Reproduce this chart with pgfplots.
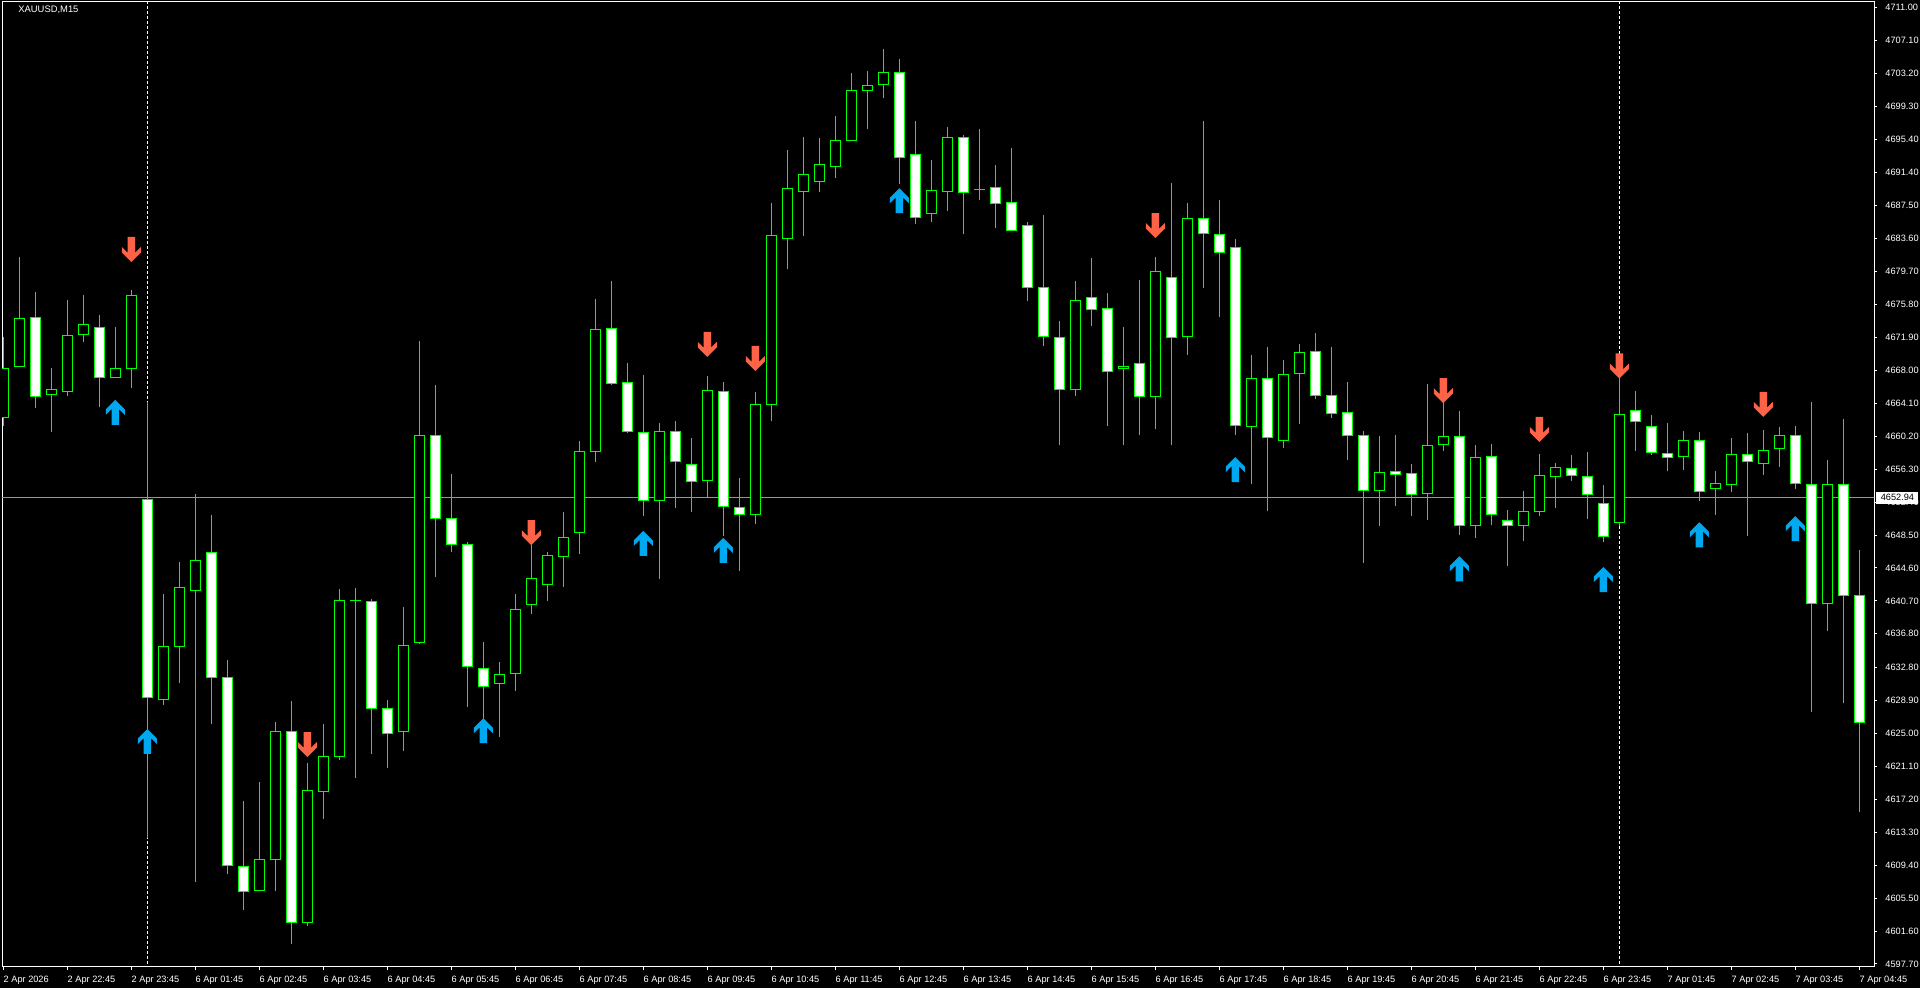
\documentclass[border=0pt]{standalone}
\usepackage{pgfplots}
\pgfplotsset{compat=1.18}
\usepackage{pgfplotstable}
\usepackage{fontspec}
\setmainfont{Liberation Sans}
\definecolor{lime}{RGB}{0,255,0}
\definecolor{buyblue}{RGB}{0,168,240}
\definecolor{sellred}{RGB}{255,99,71}
\definecolor{priceline}{RGB}{150,150,150}

\pgfdeclareplotmark{sellarrow}{%
  \pgfpathmoveto{\pgfqpoint{0pt}{-6.25pt}}%
  \pgfpathlineto{\pgfqpoint{4.75pt}{-1.5pt}}%
  \pgfpathlineto{\pgfqpoint{4.75pt}{1.25pt}}%
  \pgfpathlineto{\pgfqpoint{1.9pt}{-1.6pt}}%
  \pgfpathlineto{\pgfqpoint{1.9pt}{6.25pt}}%
  \pgfpathlineto{\pgfqpoint{-1.9pt}{6.25pt}}%
  \pgfpathlineto{\pgfqpoint{-1.9pt}{-1.6pt}}%
  \pgfpathlineto{\pgfqpoint{-4.75pt}{1.25pt}}%
  \pgfpathlineto{\pgfqpoint{-4.75pt}{-1.5pt}}%
  \pgfpathclose\pgfusepathqfill}
\pgfdeclareplotmark{buyarrow}{%
  \pgfpathmoveto{\pgfqpoint{0pt}{6.25pt}}%
  \pgfpathlineto{\pgfqpoint{4.75pt}{1.5pt}}%
  \pgfpathlineto{\pgfqpoint{4.75pt}{-1.25pt}}%
  \pgfpathlineto{\pgfqpoint{1.9pt}{1.6pt}}%
  \pgfpathlineto{\pgfqpoint{1.9pt}{-6.25pt}}%
  \pgfpathlineto{\pgfqpoint{-1.9pt}{-6.25pt}}%
  \pgfpathlineto{\pgfqpoint{-1.9pt}{1.6pt}}%
  \pgfpathlineto{\pgfqpoint{-4.75pt}{-1.25pt}}%
  \pgfpathlineto{\pgfqpoint{-4.75pt}{1.5pt}}%
  \pgfpathclose\pgfusepathqfill}

% bullish candles (close >= open), hollow
\pgfplotstableread{
x o h l c
0 4662.41 4671.99 4661.47 4668.22
1 4668.51 4681.41 4668.51 4674.16
3 4665.10 4668.29 4660.67 4665.68
4 4665.53 4676.34 4665.02 4672.13
5 4672.28 4676.92 4671.33 4673.44
7 4667.13 4673.15 4667.13 4668.22
8 4668.22 4677.50 4665.90 4676.92
10 4629.06 4641.53 4628.33 4635.29
11 4635.29 4645.30 4630.94 4642.26
12 4641.97 4653.35 4607.45 4645.45
16 4606.43 4619.27 4606.43 4610.06
17 4610.06 4626.30 4606.29 4625.21
19 4602.66 4621.52 4602.23 4618.25
20 4618.11 4626.08 4614.84 4622.24
21 4622.31 4642.11 4621.81 4640.73
22 4640.73 4642.26 4619.70 4640.73
25 4625.21 4640.01 4622.97 4635.44
26 4635.80 4671.48 4635.58 4660.31
31 4630.87 4633.48 4624.63 4631.96
32 4632.10 4641.53 4630.07 4639.64
33 4640.30 4647.33 4639.14 4643.34
34 4642.69 4646.46 4640.66 4646.10
35 4645.95 4651.25 4642.33 4648.20
36 4648.78 4659.66 4646.24 4658.35
37 4658.43 4676.48 4657.12 4672.86
41 4652.62 4661.76 4643.27 4660.75
44 4654.95 4667.35 4652.99 4665.60
47 4650.88 4665.46 4649.80 4663.94
48 4664.01 4687.80 4661.98 4684.02
49 4683.66 4694.10 4679.96 4689.54
50 4689.17 4695.63 4683.88 4691.20
51 4690.41 4695.55 4689.10 4692.36
52 4692.15 4698.16 4690.77 4695.19
53 4695.26 4703.24 4695.26 4701.14
54 4701.14 4703.46 4696.57 4701.72
55 4701.86 4706.07 4700.20 4703.24
58 4686.56 4692.94 4685.55 4689.32
59 4689.17 4696.86 4686.92 4695.55
61 4689.46 4696.57 4688.16 4689.46
67 4665.68 4678.59 4664.95 4676.26
70 4668.22 4673.15 4659.15 4668.51
72 4664.95 4681.41 4661.04 4679.75
74 4671.99 4687.80 4669.81 4685.98
78 4661.40 4669.81 4654.58 4667.06
80 4659.73 4669.23 4658.86 4667.56
81 4667.64 4671.12 4661.62 4670.10
86 4653.79 4660.24 4649.51 4655.89
89 4653.42 4666.40 4650.23 4659.08
90 4659.22 4664.23 4658.50 4660.17
92 4649.65 4659.15 4648.20 4657.63
95 4649.65 4653.71 4647.84 4651.32
96 4651.32 4658.06 4650.81 4655.60
97 4655.45 4657.05 4651.68 4656.54
101 4650.01 4667.06 4649.51 4662.78
105 4657.85 4660.82 4656.18 4659.66
107 4654.00 4656.10 4650.88 4654.58
108 4654.51 4660.02 4653.64 4657.99
110 4656.98 4660.96 4655.60 4658.50
111 4658.79 4661.33 4656.61 4660.31
114 4640.37 4657.41 4637.18 4654.44
}\bull

% bearish candles (close < open), white
\pgfplotstableread{
x o h l c
2 4674.23 4677.28 4663.50 4664.95
6 4673.07 4674.60 4663.65 4667.13
9 4652.70 4664.23 4612.67 4629.20
13 4646.39 4650.88 4626.16 4631.67
14 4631.59 4633.70 4608.32 4609.33
15 4609.26 4617.02 4604.11 4606.29
18 4625.21 4628.84 4600.05 4602.66
23 4640.59 4640.95 4622.60 4627.97
24 4627.97 4628.98 4620.86 4625.00
27 4660.31 4666.26 4643.49 4650.45
28 4650.45 4655.74 4646.53 4647.40
29 4647.33 4647.62 4628.11 4632.97
30 4632.68 4635.80 4626.30 4630.51
38 4672.93 4678.59 4666.26 4666.48
39 4666.55 4668.87 4660.60 4660.75
40 4660.60 4667.49 4650.74 4652.62
42 4660.75 4661.98 4651.75 4657.19
43 4656.83 4660.02 4651.17 4654.87
45 4665.46 4666.62 4648.35 4651.83
46 4651.75 4655.24 4644.29 4650.88
56 4703.24 4704.91 4690.12 4693.23
57 4693.52 4697.51 4685.33 4686.05
60 4695.55 4695.92 4684.10 4689.10
62 4689.68 4692.36 4684.82 4687.80
63 4687.87 4694.32 4684.60 4684.60
64 4685.18 4685.62 4676.26 4677.86
65 4677.86 4686.42 4670.83 4671.99
66 4671.91 4673.87 4659.15 4665.68
68 4676.63 4681.34 4673.22 4675.18
69 4675.32 4677.14 4661.40 4667.92
71 4668.80 4678.73 4660.31 4664.95
73 4679.02 4690.19 4659.22 4671.84
75 4685.98 4697.51 4677.72 4684.24
76 4684.10 4688.16 4674.38 4681.92
77 4682.57 4683.59 4660.31 4661.47
79 4667.06 4670.75 4651.32 4660.09
82 4670.25 4672.42 4664.59 4665.02
83 4665.02 4670.75 4662.34 4662.92
84 4662.99 4666.62 4657.34 4660.31
85 4660.31 4660.82 4645.23 4653.79
87 4656.03 4660.38 4651.90 4655.67
88 4655.74 4656.90 4650.81 4653.35
91 4660.17 4663.21 4648.56 4649.65
93 4657.77 4659.30 4649.65 4650.88
94 4650.23 4651.46 4644.79 4649.65
98 4656.40 4657.99 4654.87 4655.53
99 4655.45 4658.35 4650.45 4653.28
100 4652.26 4654.44 4647.62 4648.35
102 4663.21 4665.53 4658.43 4661.98
103 4661.33 4662.70 4657.99 4658.28
104 4658.14 4661.76 4656.03 4657.70
106 4659.66 4660.67 4652.48 4653.71
109 4657.99 4660.60 4648.35 4657.19
112 4660.31 4661.40 4654.00 4654.58
113 4654.44 4664.23 4627.53 4640.37
115 4654.44 4662.27 4628.55 4641.31
116 4641.31 4646.75 4615.71 4626.30
}\bear

\pgfplotstableread{
x y
8 4682.32
19 4623.69
33 4648.78
44 4671.08
47 4669.41
72 4685.15
90 4665.60
96 4661.00
101 4668.52
110 4663.97
}\sell

\pgfplotstableread{
x y
7 4663.03
9 4624.05
30 4625.32
40 4647.51
45 4646.68
56 4688.09
77 4656.25
91 4644.50
100 4643.23
106 4648.53
112 4649.25
}\buy

\newcommand{\lblfont}{\fontsize{4.6pt}{5.5pt}\selectfont}

\begin{document}
\begin{tikzpicture}
\useasboundingbox (0,0) rectangle (960pt,494pt);
\fill[black] (0,0) rectangle (960pt,494pt);
\begin{axis}[
  at={(1pt,10.5pt)}, anchor=south west,
  scale only axis, width=936pt, height=482.5pt,
  xmin=-0.083, xmax=116.92, ymin=4597.34, ymax=4711.63,
  clip mode=individual,
  axis background/.style={fill=black},
  axis line style={white, line width=0.5pt},
  ytick pos=right, xtick pos=bottom, tick align=outside,
  major tick length=1.5pt,
  tick style={white, line width=0.5pt},
  ytick={4711.00,4707.10,4703.20,4699.30,4695.40,4691.40,4687.50,4683.60,4679.70,4675.80,4671.90,4668.00,4664.10,4660.20,4656.30,4652.40,4648.50,4644.60,4640.70,4636.80,4632.80,4628.90,4625.00,4621.10,4617.20,4613.30,4609.40,4605.50,4601.60,4597.70},
  yticklabels={4711.00,4707.10,4703.20,4699.30,4695.40,4691.40,4687.50,4683.60,4679.70,4675.80,4671.90,4668.00,4664.10,4660.20,4656.30,4652.40,4648.50,4644.60,4640.70,4636.80,4632.80,4628.90,4625.00,4621.10,4617.20,4613.30,4609.40,4605.50,4601.60,4597.70},
  xtick={0,4,...,116},
  xticklabels={2 Apr 2026,2 Apr 22:45,2 Apr 23:45,6 Apr 01:45,6 Apr 02:45,6 Apr 03:45,6 Apr 04:45,6 Apr 05:45,6 Apr 06:45,6 Apr 07:45,6 Apr 08:45,6 Apr 09:45,6 Apr 10:45,6 Apr 11:45,6 Apr 12:45,6 Apr 13:45,6 Apr 14:45,6 Apr 15:45,6 Apr 16:45,6 Apr 17:45,6 Apr 18:45,6 Apr 19:45,6 Apr 20:45,6 Apr 21:45,6 Apr 22:45,6 Apr 23:45,7 Apr 01:45,7 Apr 02:45,7 Apr 03:45,7 Apr 04:45},
  yticklabel style={anchor=west, inner sep=0pt, xshift=4pt, text=white, font=\lblfont},
  xticklabel style={anchor=north west, inner sep=0pt, yshift=-2.75pt, text=white, font=\lblfont},
]
% current price line and day separators
\addplot[priceline, line width=0.5pt, forget plot] coordinates {(-1,4652.94) (118,4652.94)};
\addplot[white, line width=0.5pt, dash pattern=on 1.5pt off 1pt, forget plot] coordinates {(9,4590) (9,4720)};
\addplot[white, line width=0.5pt, dash pattern=on 1.5pt off 1pt, forget plot] coordinates {(101,4590) (101,4720)};
% wicks
\addplot[draw=none, mark=none, forget plot, error bars/.cd, y dir=plus, y explicit, error mark=none,
  error bar style={draw=lime, line width=0.5pt}]
  table[x=x, y=l, y error plus expr={\thisrow{h}-\thisrow{l}}] {\bull};
\addplot[draw=none, mark=none, forget plot, error bars/.cd, y dir=plus, y explicit, error mark=none,
  error bar style={draw=lime, line width=0.5pt}]
  table[x=x, y=l, y error plus expr={\thisrow{h}-\thisrow{l}}] {\bear};
% body outlines
\addplot[draw=none, mark=none, forget plot, error bars/.cd, y dir=plus, y explicit, error mark=none,
  error bar style={draw=lime, line width=5.25pt}]
  table[x=x, y expr={\thisrow{o}-0.06}, y error plus expr={\thisrow{c}-\thisrow{o}+0.12}] {\bull};
\addplot[draw=none, mark=none, forget plot, error bars/.cd, y dir=plus, y explicit, error mark=none,
  error bar style={draw=lime, line width=5.25pt}]
  table[x=x, y expr={\thisrow{c}-0.06}, y error plus expr={\thisrow{o}-\thisrow{c}+0.12}] {\bear};
% body fills
\addplot[draw=none, mark=none, forget plot, error bars/.cd, y dir=plus, y explicit, error mark=none,
  error bar style={draw=black, line width=4.25pt}]
  table[x=x, y expr={\thisrow{o}+0.06}, y error plus expr={max(\thisrow{c}-\thisrow{o}-0.12,0)}] {\bull};
\addplot[draw=none, mark=none, forget plot, error bars/.cd, y dir=plus, y explicit, error mark=none,
  error bar style={draw=white, line width=4.25pt}]
  table[x=x, y expr={\thisrow{c}+0.06}, y error plus expr={max(\thisrow{o}-\thisrow{c}-0.12,0)}] {\bear};
% signal arrows
\addplot[only marks, mark=sellarrow, mark options={fill=sellred, draw=none}, forget plot] table[x=x, y=y] {\sell};
\addplot[only marks, mark=buyarrow, mark options={fill=buyblue, draw=none}, forget plot] table[x=x, y=y] {\buy};
% labels
\node[anchor=west, text=white, inner sep=0pt, font=\fontsize{4.7pt}{5.5pt}\selectfont, xshift=8pt, yshift=-3.75pt] at (rel axis cs:0,1) {XAUUSD,M15};
\node[fill=white, text=black, inner sep=0pt, minimum width=21pt, minimum height=6pt, anchor=west, xshift=1pt, font=\lblfont] at ({rel axis cs:1,0}|-{axis cs:0,4652.94}) {4652.94};
\end{axis}
\end{tikzpicture}
\end{document}
